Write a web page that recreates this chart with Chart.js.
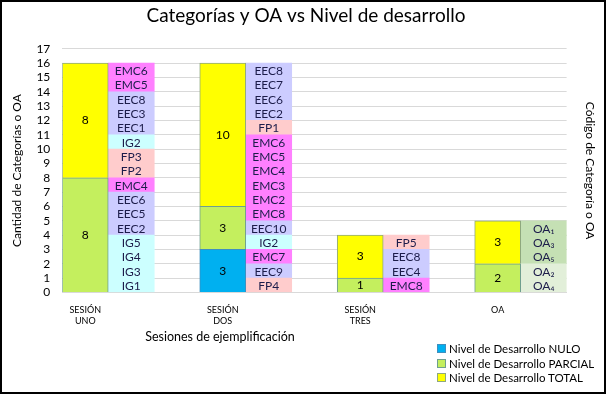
<!DOCTYPE html>
<html>
<head>
<meta charset="utf-8">
<script src="https://cdn.jsdelivr.net/npm/chart.js@4.4.0/dist/chart.umd.min.js"></script>
<style>
body { margin: 0; background: #fff; }
#wrap { position: relative; width: 606px; height: 394px; font-family: Lato, "Open Sans", sans-serif; }
#marco { position: absolute; left: 0; top: 0; width: 606px; height: 394px; box-sizing: border-box; border: 2px solid #000; pointer-events: none; }
#tituloX { position: absolute; left: 120px; width: 200px; top: 329px; text-align: center; font-size: 12.5px; color: #000; }
#leyenda { position: absolute; left: 437px; top: 342px; font-size: 11.5px; color: #000; }
#leyenda div { height: 14.5px; line-height: 14.5px; white-space: nowrap; }
#leyenda span { display: inline-block; width: 7px; height: 7px; margin-right: 3px; vertical-align: 0px; border: 1px solid; }
</style>
</head>
<body>
<div id="wrap">
  <canvas id="grafico" width="606" height="394"></canvas>
  <div id="tituloX">Sesiones de ejemplificación</div>
  <div id="leyenda"></div>
  <div id="marco"></div>
</div>
<script>
// sesiones (eje x)
var sesiones = [['SESIÓN', 'UNO'], ['SESIÓN', 'DOS'], ['SESIÓN', 'TRES'], 'OA'];

// nivel de desarrollo por sesion
var nulo = [0, 3, 0, 0];
var parcial = [8, 3, 1, 2];
var total = [8, 10, 3, 3];

// codigos de categoria, de abajo hacia arriba
var codigosUno = ['IG1', 'IG3', 'IG4', 'IG5', 'EEC2', 'EEC5', 'EEC6', 'EMC4', 'FP2', 'FP3', 'IG2', 'EEC1', 'EEC3', 'EEC8', 'EMC5', 'EMC6'];
var codigosDos = ['FP4', 'EEC9', 'EMC7', 'IG2', 'EEC10', 'EMC8', 'EMC2', 'EMC3', 'EMC4', 'EMC5', 'EMC6', 'FP1', 'EEC2', 'EEC6', 'EEC7', 'EEC8'];
var codigosTres = ['EMC8', 'EEC4', 'EEC8', 'FP5'];
var oaParcial = ['OA₄', 'OA₂'];
var oaTotal = ['OA₅', 'OA₃', 'OA₁'];
var codigosOA = oaParcial.concat(oaTotal);

var codigos = [codigosUno, codigosDos, codigosTres, codigosOA];

function colorCodigo(c) {
  if (!c) return '#fff';
  if (oaParcial.indexOf(c) >= 0) return '#e2efd9';
  if (oaTotal.indexOf(c) >= 0) return '#c5e0b4';
  if (c.indexOf('EMC') === 0) return '#ff80ff';
  if (c.indexOf('EEC') === 0) return '#ccccff';
  if (c.indexOf('IG') === 0) return '#ccffff';
  if (c.indexOf('FP') === 0) return '#ffcccc';
  return '#ddd';
}

function puntos(arr) {
  var out = [];
  arr.forEach(function(v, i) {
    if (v) out.push({x: i, y: v});
  });
  return out;
}

var datasets = [
  {label: 'Nivel de Desarrollo NULO', stack: 'nivel', data: puntos(nulo), backgroundColor: '#00b0f0', borderColor: '#3f8fbf', borderWidth: 1},
  {label: 'Nivel de Desarrollo PARCIAL', stack: 'nivel', data: puntos(parcial), backgroundColor: '#c4ef5e', borderColor: '#6f9f8f', borderWidth: 1},
  {label: 'Nivel de Desarrollo TOTAL', stack: 'nivel', data: puntos(total), backgroundColor: '#ffff00', borderColor: '#8fa87f', borderWidth: 1}
];

var maxCod = Math.max.apply(null, codigos.map(function(c) { return c.length; }));
for (var k = 0; k < maxCod; k++) {
  var d = [];
  codigos.forEach(function(lista, i) {
    if (lista[k]) d.push({x: i, y: 1, code: lista[k]});
  });
  datasets.push({
    label: 'cod' + k,
    stack: 'codigo',
    data: d,
    borderWidth: 0,
    backgroundColor: function(ctx) { return colorCodigo(ctx.raw && ctx.raw.code); }
  });
}

var etiquetas = {
  id: 'etiquetas',
  afterDatasetsDraw: function(chart) {
    var ctx = chart.ctx;
    ctx.save();
    ctx.textAlign = 'center';
    ctx.textBaseline = 'middle';
    chart.data.datasets.forEach(function(ds, di) {
      var meta = chart.getDatasetMeta(di);
      meta.data.forEach(function(bar, j) {
        var raw = ds.data[j];
        var txt, mid = (bar.y + bar.base) / 2;
        if (ds.stack === 'nivel') {
          txt = String(raw.y);
          ctx.fillStyle = '#000';
          ctx.font = '12px Lato, "Open Sans", sans-serif';
        } else {
          txt = raw.code;
          ctx.fillStyle = '#1c1c4a';
          ctx.font = '12px Lato, "Open Sans", sans-serif';
          mid += 1;
        }
        ctx.fillText(txt, bar.x, mid);
      });
    });
    ctx.restore();
  }
};

var ctx = document.getElementById('grafico');
var grafico = new Chart(ctx, {
  type: 'bar',
  data: {datasets: datasets},
  options: {
    responsive: false,
    animation: false,
    barThickness: 46,
    layout: {padding: {left: 6, right: 0, top: 0, bottom: 64}},
    plugins: {
      legend: {display: false},
      tooltip: {enabled: false},
      title: {
        display: true,
        text: 'Categorías y OA vs Nivel de desarrollo',
        color: '#000',
        font: {family: 'Lato, "Open Sans", sans-serif', size: 19, weight: 'normal'},
        padding: {top: 4, bottom: 22}
      }
    },
    scales: {
      x: {
        type: 'linear',
        min: -0.334,
        max: 3.334,
        offset: false,
        grid: {display: false},
        border: {display: true, color: '#d9d9d9'},
        ticks: {
          stepSize: 1,
          includeBounds: false,
          autoSkip: false,
          maxRotation: 0,
          labelOffset: -23,
          padding: 4,
          color: '#000',
          font: {family: 'Lato, "Open Sans", sans-serif', size: 9},
          callback: function(v) { return sesiones[v] || ''; }
        }
      },
      y: {
        stacked: true,
        min: 0,
        max: 17,
        grid: {color: '#d9d9d9', drawTicks: false},
        border: {display: false},
        ticks: {stepSize: 1, autoSkip: false, padding: 12, color: '#000', font: {family: 'Lato, "Open Sans", sans-serif', size: 12}},
        title: {display: true, text: 'Cantidad de Categorías o OA', color: '#000', font: {family: 'Lato, "Open Sans", sans-serif', size: 12}, padding: {top: 4, bottom: 0}}
      },
      y2: {
        position: 'right',
        min: 0,
        max: 17,
        grid: {display: false},
        border: {display: false},
        ticks: {display: false},
        title: {display: true, text: 'Código de Categoría o OA', color: '#000', font: {family: 'Lato, "Open Sans", sans-serif', size: 12}, padding: {top: 9, bottom: 8}}
      }
    }
  },
  plugins: [etiquetas]
});

// leyenda manual, solo niveles
var ley = document.getElementById('leyenda');
grafico.data.datasets.slice(0, 3).forEach(function(ds) {
  var fila = document.createElement('div');
  var cuadro = document.createElement('span');
  cuadro.style.background = ds.backgroundColor;
  cuadro.style.borderColor = ds.borderColor;
  fila.appendChild(cuadro);
  fila.appendChild(document.createTextNode(ds.label));
  ley.appendChild(fila);
});
</script>
</body>
</html>
